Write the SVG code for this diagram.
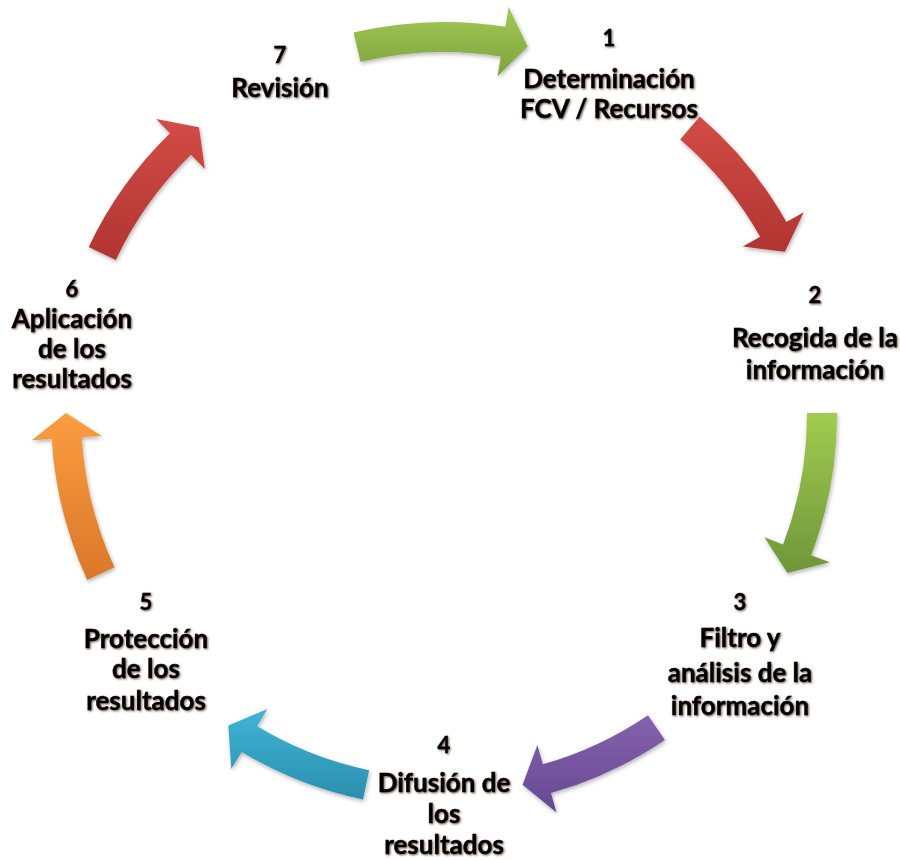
<svg xmlns="http://www.w3.org/2000/svg" width="900" height="860" viewBox="0 0 900 860">
  <defs>
    <linearGradient id="grad-green" x1="0" y1="0" x2="0" y2="1">
      <stop offset="0" stop-color="#a3c957"/>
      <stop offset="1" stop-color="#7da23c"/>
    </linearGradient>
    <linearGradient id="grad-green2" x1="0" y1="0" x2="0" y2="1">
      <stop offset="0" stop-color="#a2cb50"/>
      <stop offset="1" stop-color="#6e963a"/>
    </linearGradient>
    <linearGradient id="grad-red" x1="0" y1="0" x2="0" y2="1">
      <stop offset="0" stop-color="#d24c47"/>
      <stop offset="1" stop-color="#b13430"/>
    </linearGradient>
    <linearGradient id="grad-purple" x1="0" y1="0" x2="0" y2="1">
      <stop offset="0" stop-color="#8462ad"/>
      <stop offset="1" stop-color="#674892"/>
    </linearGradient>
    <linearGradient id="grad-cyan" x1="0" y1="0" x2="0" y2="1">
      <stop offset="0" stop-color="#3fb5d6"/>
      <stop offset="1" stop-color="#2b8eae"/>
    </linearGradient>
    <linearGradient id="grad-orange" x1="0" y1="0" x2="0" y2="1">
      <stop offset="0" stop-color="#fb9d40"/>
      <stop offset="1" stop-color="#d9782a"/>
    </linearGradient>
    <filter id="arrow-shadow" x="-20%" y="-20%" width="140%" height="140%">
      <feDropShadow dx="1" dy="2" stdDeviation="2" flood-color="#000" flood-opacity="0.3"/>
    </filter>
    <filter id="text-shadow" x="-10%" y="-30%" width="120%" height="160%">
      <feDropShadow dx="1" dy="1" stdDeviation="1.3" flood-color="#3a2200" flood-opacity="0.75"/>
    </filter>
  </defs>
  <style>
    .label { font-family: Lato, "Liberation Sans", sans-serif; font-weight: 700; font-size: 26px; fill: #000; stroke: #000; stroke-width: 0.4px; text-anchor: middle; filter: url(#text-shadow); }
    .num { font-size: 22px; }
    .arrow { filter: url(#arrow-shadow); }
  </style>

  <rect width="900" height="860" fill="#fff"/>

  <!-- curved arrows around a ring centred at (444,415), band radii 363..393 -->
  <g id="cycle-arrows">
    <path class="arrow" fill="url(#grad-green)" d="M353.6,32.5 A393,393 0 0 1 505.5,26.8 L508.6,7.1 L527.7,46.4 L497.6,76.2 L500.8,56.5 A363,363 0 0 0 360.5,61.7 Z"/>
    <path class="arrow" fill="url(#grad-red)" d="M699.8,116.6 A393,393 0 0 1 786.4,222.1 L803.8,212.3 L784.9,251.7 L742.8,246.6 L760.2,236.8 A363,363 0 0 0 680.2,139.4 Z"/>
    <path class="arrow" fill="url(#grad-green2)" d="M837,413 A393,393 0 0 1 811.1,555.2 L829.8,562.3 L787.4,573 L764.4,537.3 L783.1,544.5 A363,363 0 0 0 807,413.1 Z"/>
    <path class="arrow" fill="url(#grad-purple)" d="M664.9,740 A393,393 0 0 1 551,793.1 L556.5,812.4 L522.6,784.7 L537.4,745 L542.8,764.3 A363,363 0 0 0 648,715.2 Z"/>
    <path class="arrow" fill="url(#grad-cyan)" d="M363,799.5 A393,393 0 0 1 241.6,751.9 L231.3,769 L228.3,725.4 L267.4,709 L257.1,726.2 A363,363 0 0 0 369.1,770.2 Z"/>
    <path class="arrow" fill="url(#grad-orange)" d="M87.2,579.9 A393,393 0 0 1 51.7,439 L31.8,440.2 L66,413 L101.7,435.9 L81.7,437.1 A363,363 0 0 0 114.5,567.3 Z"/>
    <path class="arrow" fill="url(#grad-red)" d="M88.7,247 A393,393 0 0 1 170,133.3 L156.1,118.9 L199,127.2 L204.9,169.1 L190.9,154.8 A363,363 0 0 0 115.8,259.9 Z"/>
  </g>

  <g id="step-1">
    <text class="label num" x="609" y="46">1</text>
    <text class="label" x="609" y="88">Determinación</text>
    <text class="label" x="609" y="118">FCV / Recursos</text>
  </g>
  <g id="step-2">
    <text class="label num" x="815" y="303">2</text>
    <text class="label" x="815" y="347">Recogida de la</text>
    <text class="label" x="815" y="379">información</text>
  </g>
  <g id="step-3">
    <text class="label num" x="740" y="610">3</text>
    <text class="label" x="740" y="647">Filtro y</text>
    <text class="label" x="740" y="682">análisis de la</text>
    <text class="label" x="740" y="715">información</text>
  </g>
  <g id="step-4">
    <text class="label num" x="444" y="753">4</text>
    <text class="label" x="444" y="792">Difusión de</text>
    <text class="label" x="444" y="823">los</text>
    <text class="label" x="444" y="854">resultados</text>
  </g>
  <g id="step-5">
    <text class="label num" x="146" y="610">5</text>
    <text class="label" x="146" y="648">Protección</text>
    <text class="label" x="146" y="678">de los</text>
    <text class="label" x="146" y="710">resultados</text>
  </g>
  <g id="step-6">
    <text class="label num" x="72" y="297">6</text>
    <text class="label" x="72" y="328">Aplicación</text>
    <text class="label" x="72" y="358">de los</text>
    <text class="label" x="72" y="388">resultados</text>
  </g>
  <g id="step-7">
    <text class="label num" x="280" y="63">7</text>
    <text class="label" x="280" y="97">Revisión</text>
  </g>
</svg>
